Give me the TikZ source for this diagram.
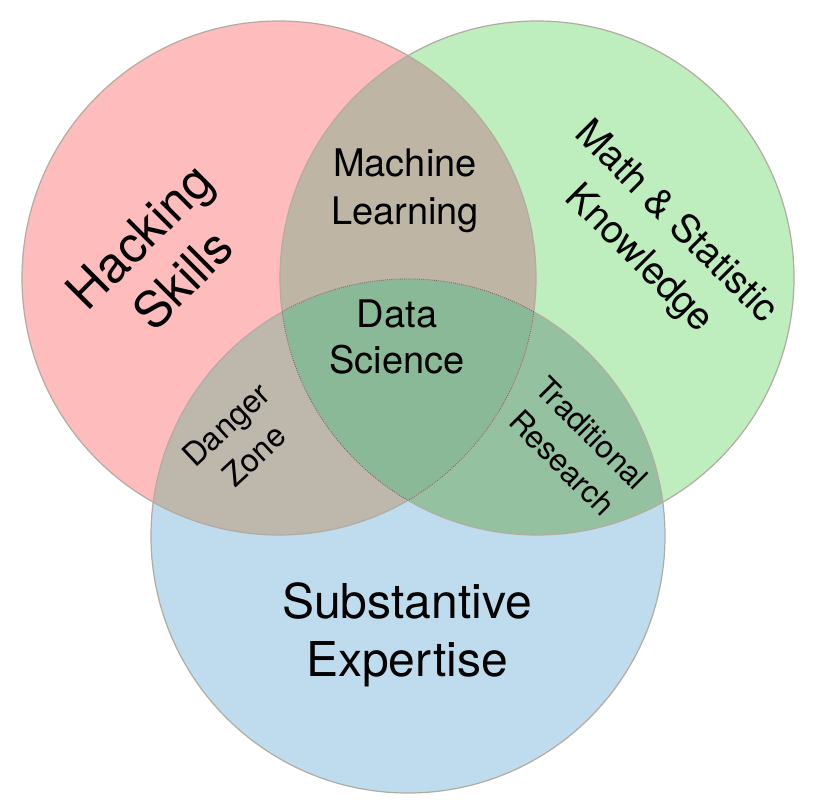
\documentclass[tikz,border=0pt]{standalone}
\usepackage{fontspec}
\setmainfont{TeX Gyre Heros}
\begin{document}
\begin{tikzpicture}[x=0.75pt,y=-0.75pt,
  lbl/.style={align=center,text=black,inner sep=0pt}]
\definecolor{cred}{RGB}{255,188,188}
\definecolor{cgreen}{RGB}{190,237,190}
\definecolor{cblue}{RGB}{190,220,238}
\definecolor{crg}{RGB}{190,181,165}
\definecolor{crb}{RGB}{190,184,172}
\definecolor{cgb}{RGB}{148,194,160}
\definecolor{call}{RGB}{137,185,150}
\definecolor{cedge}{RGB}{178,172,160}
\useasboundingbox (0,0) rectangle (815,811);
\fill[white] (0,0) rectangle (815,811);
\def\cirR{(279,278) circle[radius=257]}
\def\cirG{(537,278) circle[radius=257]}
\def\cirB{(408,536) circle[radius=257]}
% single regions
\fill[cred] \cirR;
\fill[cgreen] \cirG;
\fill[cblue] \cirB;
% pairwise
\begin{scope}\clip \cirR; \fill[crg] \cirG; \end{scope}
\begin{scope}\clip \cirR; \fill[crb] \cirB; \end{scope}
\begin{scope}\clip \cirG; \fill[cgb] \cirB; \end{scope}
% triple
\begin{scope}\clip \cirR; \clip \cirG; \fill[call] \cirB; \end{scope}
% outlines
\draw[cedge,line width=0.9] \cirR;
\draw[cedge,line width=0.9] \cirG;
\draw[cedge,line width=0.9] \cirB;
% dotted border of the centre
\begin{scope}\clip \cirR; \clip \cirG; \draw[black!60,densely dotted,line width=0.6] \cirB; \end{scope}
\begin{scope}\clip \cirR; \clip \cirB; \draw[black!60,densely dotted,line width=0.6] \cirG; \end{scope}
\begin{scope}\clip \cirG; \clip \cirB; \draw[black!60,densely dotted,line width=0.6] \cirR; \end{scope}
% labels
\node[lbl,rotate=45,font=\fontsize{37.5}{46}\selectfont] (hack) at (161,258) {Hacking\\Skills};
\node[lbl,rotate=-45,font=\fontsize{29}{39}\selectfont] (math) at (657,241) {Math \& Statistic\\Knowledge};
\node[lbl,font=\fontsize{36}{43.5}\selectfont] (subst) at (407,635) {Substantive\\Expertise};
\node[lbl,font=\fontsize{28.5}{36}\selectfont] (ml) at (405,191) {Machine\\Learning};
\node[lbl,font=\fontsize{28.5}{34.5}\selectfont] (ds) at (397,337) {Data\\Science};
\node[lbl,rotate=43,font=\fontsize{24}{31.5}\selectfont] (danger) at (240,440) {Danger\\Zone};
\node[lbl,rotate=-45,font=\fontsize{23.5}{31.5}\selectfont] (trad) at (577,448) {Traditional\\Research};
\end{tikzpicture}
\end{document}
